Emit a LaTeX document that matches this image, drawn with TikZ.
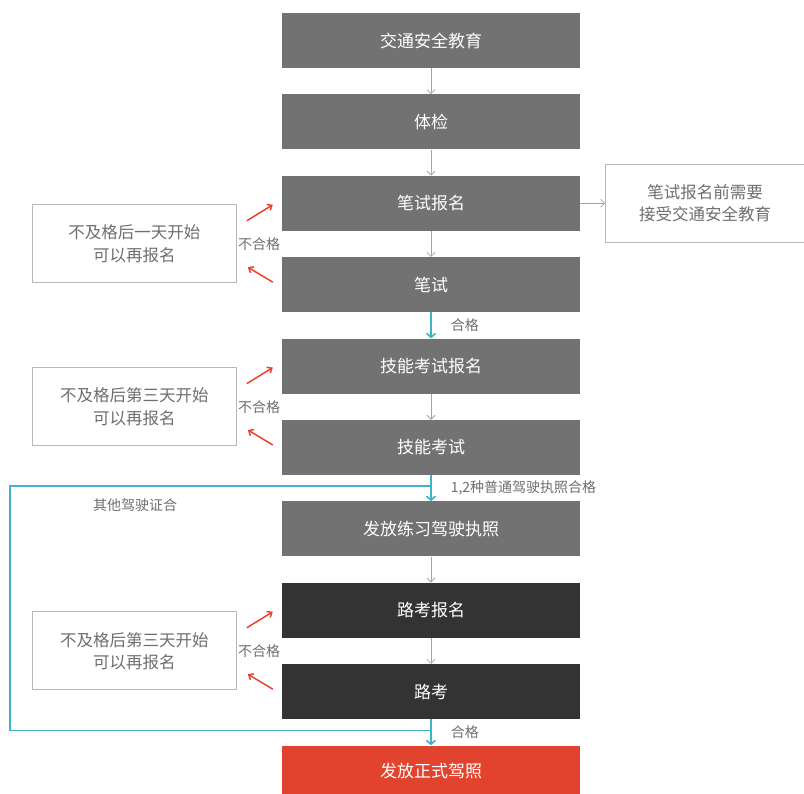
\documentclass[tikz,border=0pt]{standalone}
\usepackage{fontspec}
\setmainfont{Noto Sans CJK SC}
\usetikzlibrary{positioning,calc,arrows.meta}
\definecolor{boxgray}{HTML}{727272}
\definecolor{boxdark}{HTML}{333333}
\definecolor{boxred}{HTML}{E1432F}
\definecolor{arrowgray}{HTML}{A3A3A3}
\definecolor{linegray}{HTML}{B8B8B8}
\definecolor{notegray}{HTML}{6E6E6E}
\definecolor{passteal}{HTML}{3DB5C6}
\definecolor{failred}{HTML}{E8432F}
\begin{document}
\begin{tikzpicture}[x=1pt,y=1pt,node distance=26pt,
	stepbox/.style={rectangle,fill=boxgray,text=white,minimum width=298pt,minimum height=55pt,inner sep=0pt,font=\fontsize{17}{20}\selectfont},
	darkbox/.style={stepbox,fill=boxdark},
	finalbox/.style={stepbox,fill=boxred,minimum height=50pt},
	notebox/.style={rectangle,draw=linegray,line width=1pt,fill=white,text=notegray,align=center,minimum width=204pt,minimum height=78pt,inner sep=0pt,font=\fontsize{16.5}{22.5}\selectfont},
	lbl/.style={text=notegray,inner sep=0pt,font=\fontsize{14}{16}\selectfont},
	go/.style={draw=arrowgray,line width=0.8pt,-{Straight Barb[length=4pt,width=8pt]}},
	pass/.style={draw=passteal,line width=1.6pt,-{Straight Barb[length=4pt,width=9pt]}},
	fail/.style={draw=failred,line width=1.5pt,-{Straight Barb[length=4pt,width=7pt]}}]
\useasboundingbox (0,0) rectangle (804,794);
\node[stepbox] (jiaoyu) at (431,753.5) {交通安全教育};
\node[stepbox,below=of jiaoyu] (tijian) {体检};
\node[stepbox,below=of tijian] (bishibm) {笔试报名};
\node[stepbox,below=of bishibm] (bishi) {笔试};
\node[stepbox,below=of bishi] (jinengbm) {技能考试报名};
\node[stepbox,below=of jinengbm] (jineng) {技能考试};
\node[stepbox,below=of jineng] (xuexi) {发放练习驾驶执照};
\node[darkbox,below=of xuexi] (lukaobm) {路考报名};
\node[darkbox,below=of lukaobm] (lukao) {路考};
\node[finalbox,below=of lukao] (zhengshi) {发放正式驾照};
\node[notebox,right=25pt of bishibm,minimum width=199pt] (tixing) {笔试报名前需要\\接受交通安全教育};
\coordinate (m1) at ($(bishibm.west)!.5!(bishi.west)$);
\coordinate (m2) at ($(jinengbm.west)!.5!(jineng.west)$);
\coordinate (m3) at ($(lukaobm.west)!.5!(lukao.west)$);
\node[notebox,left=45pt of m1] (retry1) {不及格后一天开始\\可以再报名};
\node[notebox,left=45pt of m2] (retry2) {不及格后第三天开始\\可以再报名};
\node[notebox,left=45pt of m3] (retry3) {不及格后第三天开始\\可以再报名};
\node[lbl,right=1pt of retry1] (fail1) {不合格};
\node[lbl,right=1pt of retry2] (fail2) {不合格};
\node[lbl,right=1pt of retry3] (fail3) {不合格};
\draw[go] (jiaoyu) -- (tijian);
\draw[go] (tijian) -- (bishibm);
\draw[go] (bishibm) -- (bishi);
\draw[go] (bishibm) -- (tixing);
\draw[go] (jinengbm) -- (jineng);
\draw[go] (xuexi) -- (lukaobm);
\draw[go] (lukaobm) -- (lukao);
\draw[fail] ($(bishibm.west)+(-35,-17.5)$) -- ($(bishibm.west)+(-9,-1.5)$);
\draw[fail] ($(bishi.west)+(-9,2.5)$) -- ($(bishi.west)+(-34,17.5)$);
\draw[fail] ($(jinengbm.west)+(-35,-17.5)$) -- ($(jinengbm.west)+(-9,-1.5)$);
\draw[fail] ($(jineng.west)+(-9,2.5)$) -- ($(jineng.west)+(-34,17.5)$);
\draw[fail] ($(lukaobm.west)+(-35,-17.5)$) -- ($(lukaobm.west)+(-9,-1.5)$);
\draw[fail] ($(lukao.west)+(-9,2.5)$) -- ($(lukao.west)+(-34,17.5)$);
\coordinate (edge) at (10,0);
\coordinate (fork) at ($(jineng.south)+(0,-11)$);
\coordinate (join) at ($(zhengshi.north)+(0,15)$);
\draw[draw=passteal,line width=1.6pt] (fork) -- (fork -| edge) -- (join -| edge) -- (join);
\node[lbl] (qita) at (135,289) {其他驾驶证合};
\draw[pass] (bishi) -- node[lbl,right=19pt] (hege1) {合格} (jinengbm);
\draw[pass] (jineng) -- node[lbl,right=19pt] (hege2) {1,2种普通驾驶执照合格} (xuexi);
\draw[pass] (lukao) -- node[lbl,right=19pt] (hege3) {合格} (zhengshi);
\end{tikzpicture}
\end{document}
